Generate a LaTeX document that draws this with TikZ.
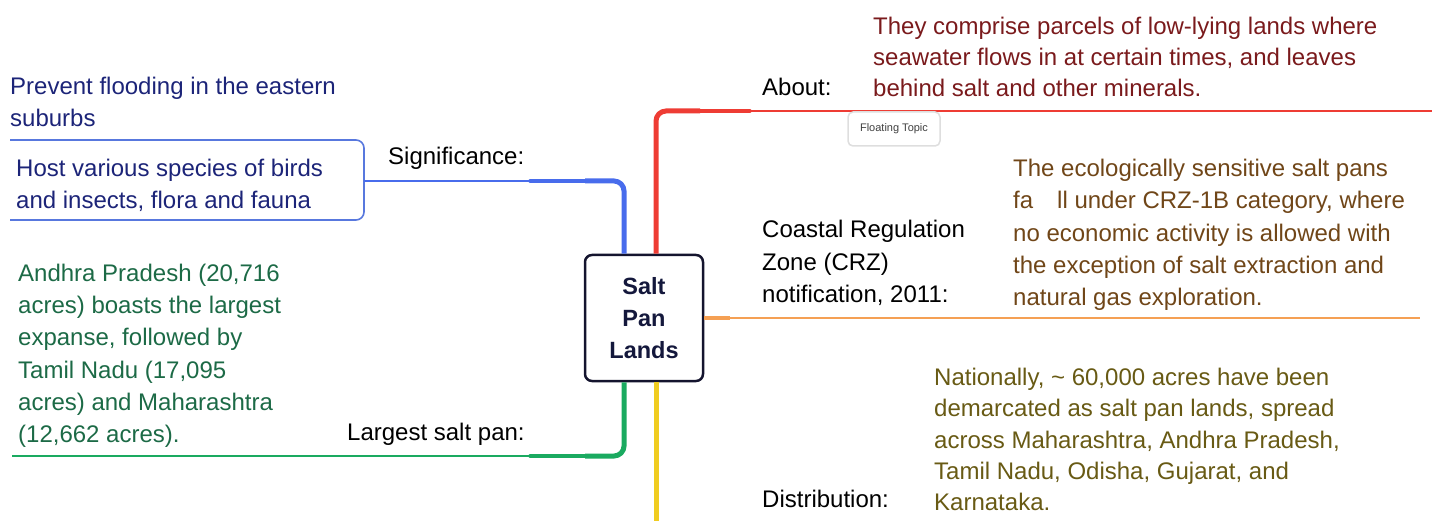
\documentclass[tikz,border=0pt]{standalone}
\usepackage{fontspec}
\setmainfont{Liberation Sans}
\definecolor{navytxt}{RGB}{28,36,120}
\definecolor{redtxt}{RGB}{122,26,28}
\definecolor{browntxt}{RGB}{112,70,24}
\definecolor{olivetxt}{RGB}{104,90,20}
\definecolor{greentxt}{RGB}{28,106,70}
\definecolor{boxline}{RGB}{20,20,46}
\definecolor{centertxt}{RGB}{20,24,60}
\definecolor{redln}{RGB}{238,60,52}
\definecolor{blueln}{RGB}{72,108,236}
\definecolor{bluebox}{RGB}{88,120,222}
\definecolor{greenln}{RGB}{26,170,96}
\definecolor{orangeln}{RGB}{245,160,84}
\definecolor{yellowln}{RGB}{240,204,32}
\definecolor{floatgray}{RGB}{222,222,222}
\begin{document}
\begin{tikzpicture}[x=1pt,y=-1pt,
  txt/.style={font=\fontsize{24}{31.5}\selectfont, inner sep=0pt, anchor=north west, align=left},
  lbl/.style={txt, text=black},
  centerbox/.style={draw=boxline, line width=2.5pt, rounded corners=7pt, fill=white,
    minimum width=118pt, minimum height=126pt, align=center, text=centertxt,
    font=\bfseries\fontsize{23.5}{32}\selectfont},
  floatbox/.style={draw=floatgray, line width=1.5pt, rounded corners=5pt, fill=white,
    minimum width=92pt, minimum height=34pt, text=black!75, font=\fontsize{11}{13}\selectfont},
  thick conn/.style={line width=5pt, rounded corners=10pt},
  mid conn/.style={line width=3.4pt, line cap=round},
  thin conn/.style={line width=2.2pt}
]
\useasboundingbox (0,0) rectangle (1438,521);

% central topic
\node[centerbox] (c) at (644,318) {Salt\\Pan\\Lands};

% left side
\node[txt, text=navytxt] (prevent) at (10,77) {Prevent flooding in the eastern\\suburbs};
\node[txt, text=navytxt] (host) at (16,159) {Host various species of birds\\and insects, flora and fauna};
\node[lbl] (sig) at (388,147) {Significance:};
\node[txt, text=greentxt, font=\fontsize{24}{32.2}\selectfont] (largest) at (18,264)
  {Andhra Pradesh (20,716\\acres) boasts the largest\\expanse, followed by\\Tamil Nadu (17,095\\acres) and Maharashtra\\(12,662 acres).};
\node[lbl] (lsp) at (347,423) {Largest salt pan:};

% right side
\node[lbl] (about) at (762,78) {About:};
\node[txt, text=redtxt, font=\fontsize{24}{31}\selectfont] (abouttxt) at (873,17)
  {They comprise parcels of low-lying lands where\\seawater flows in at certain times, and leaves\\behind salt and other minerals.};
\node[lbl, font=\fontsize{24}{32.5}\selectfont] (crz) at (762,220)
  {Coastal Regulation\\Zone (CRZ)\\notification, 2011:};
\node[txt, text=browntxt, font=\fontsize{24}{32.3}\selectfont] (crztxt) at (1013,159)
  {The ecologically sensitive salt pans\\fa\hspace{24pt}ll under CRZ-1B category, where\\no economic activity is allowed with\\the exception of salt extraction and\\natural gas exploration.};
\node[lbl] (dist) at (762,490) {Distribution:};
\node[txt, text=olivetxt, font=\fontsize{24}{31.3}\selectfont] (disttxt) at (934,368)
  {Nationally, \char`~{} 60,000 acres have been\\demarcated as salt pan lands, spread\\across Maharashtra, Andhra Pradesh,\\Tamil Nadu, Odisha, Gujarat, and\\Karnataka.};

% connector coordinates
\coordinate (redmid) at (700,111);
\coordinate (redmid2) at (750,111);
\coordinate (redend) at (1432,111);
\coordinate (bluemid) at (585,181);
\coordinate (bluemid2) at (530,181);
\coordinate (blueend) at (364,181);
\coordinate (greenmid) at (585,456);
\coordinate (greenmid2) at (530,456);
\coordinate (greenend) at (12,456);
\coordinate (orgmid) at (730,318);
\coordinate (orgend) at (1420,318);
\coordinate (yelend) at (656,530);

% bracket around the significance sub-topics
\draw[bluebox, line width=1.6pt, rounded corners=8pt] (10,140) -- (364,140) -- (364,220) -- (10,220);

% connectors (tapering from the central topic outwards)
\draw[redln, thin conn] (redmid2) -- (redend);
\draw[redln, mid conn] (redmid) -- (redmid2);
\draw[redln, thick conn] ([xshift=12pt]c.north) |- (redmid);
\draw[blueln, thin conn] (bluemid2) -- (blueend);
\draw[blueln, mid conn] (bluemid) -- (bluemid2);
\draw[blueln, thick conn] ([xshift=-20pt]c.north) |- (bluemid);
\draw[greenln, thin conn] (greenmid2) -- (greenend);
\draw[greenln, mid conn] (greenmid) -- (greenmid2);
\draw[greenln, thick conn] ([xshift=-20pt]c.south) |- (greenmid);
\draw[orangeln, thin conn] (orgmid) -- (orgend);
\draw[orangeln, line width=4pt] (c.east) -- (orgmid);
\draw[yellowln, line width=5pt] ([xshift=12pt]c.south) -- (yelend);

% floating topic
\node[floatbox] (float) at (894,129) {Floating Topic};
\end{tikzpicture}
\end{document}
